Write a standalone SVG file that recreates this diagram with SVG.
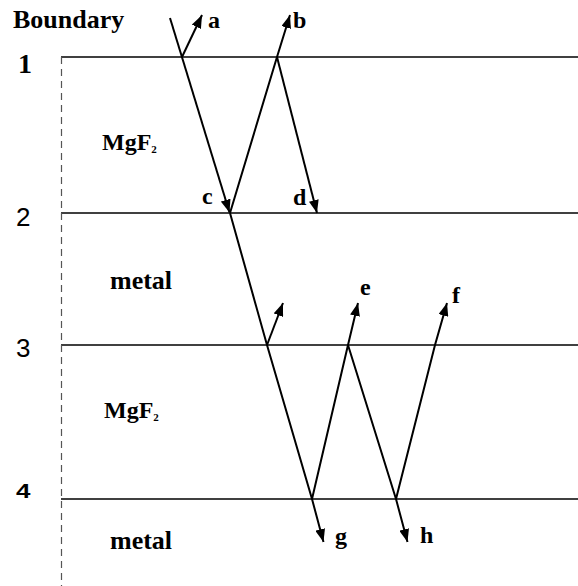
<svg xmlns="http://www.w3.org/2000/svg" width="578" height="586" viewBox="0 0 578 586">
<style>
.t{font-family:"Liberation Serif","Times New Roman",serif;font-weight:bold;fill:#000}
.s{font-family:"Liberation Sans",Arial,sans-serif;fill:#000}
.bd{stroke:#000;stroke-width:1.5;fill:none}
.ray{stroke:#000;stroke-width:2;fill:none;marker-end:url(#ah)}
</style>
<defs>
<marker id="ah" markerUnits="userSpaceOnUse" markerWidth="13" markerHeight="10" refX="13" refY="5" orient="auto">
<path d="M0,0 L13,5 L0,10 z" fill="#000"/>
</marker>
</defs>
<rect width="578" height="586" fill="#fff"/>
<g id="boundaries">
<line class="bd" x1="61" y1="57" x2="578" y2="57"/>
<line class="bd" x1="61" y1="213" x2="578" y2="213"/>
<line class="bd" x1="61" y1="345" x2="578" y2="345"/>
<line class="bd" x1="61" y1="499" x2="578" y2="499"/>
<line x1="61.5" y1="57" x2="61.5" y2="586" stroke="#555" stroke-width="1.2" stroke-dasharray="7,5"/>
</g>
<g id="labels">
<text class="t" x="13" y="28" font-size="26">Boundary</text>
<text class="t" x="18" y="73" font-size="28">1</text>
<text class="s" x="16" y="226" font-size="26">2</text>
<text class="s" x="16" y="357" font-size="26">3</text>
<text class="s" font-size="20" font-weight="bold" transform="translate(16,498) scale(1.3,1)">4</text>
<text class="t" x="102" y="150" font-size="24">MgF<tspan font-size="11" dy="3">2</tspan></text>
<text class="t" x="104" y="418" font-size="24">MgF<tspan font-size="11" dy="3">2</tspan></text>
<text class="t" x="110" y="289" font-size="26">metal</text>
<text class="t" x="110" y="549" font-size="26">metal</text>
</g>
<g id="connectors">
<line class="ray" x1="170" y1="18" x2="229.5" y2="212.5"/>
<polyline class="ray" points="230,213 267,345 312,499 323.5,542"/>
<polyline class="ray" points="182,57 202,15"/>
<polyline class="ray" points="230,213 277,57 290,15"/>
<polyline class="ray" points="277,57 317,213"/>
<polyline class="ray" points="267,345 283,303"/>
<polyline class="ray" points="312,499 348,345 358,303"/>
<polyline class="ray" points="348,345 396,499 407.5,542"/>
<polyline class="ray" points="396,499 435,345 447,303"/>
</g>
<g id="ray-labels">
<text class="t" x="208" y="28" font-size="24">a</text>
<text class="t" x="293" y="28" font-size="24">b</text>
<text class="t" x="202" y="204" font-size="24">c</text>
<text class="t" x="293" y="205" font-size="24">d</text>
<text class="t" x="360" y="295" font-size="24">e</text>
<text class="t" x="452" y="303" font-size="24">f</text>
<text class="t" x="335" y="544" font-size="24">g</text>
<text class="t" x="420" y="543" font-size="24">h</text>
</g>
</svg>
